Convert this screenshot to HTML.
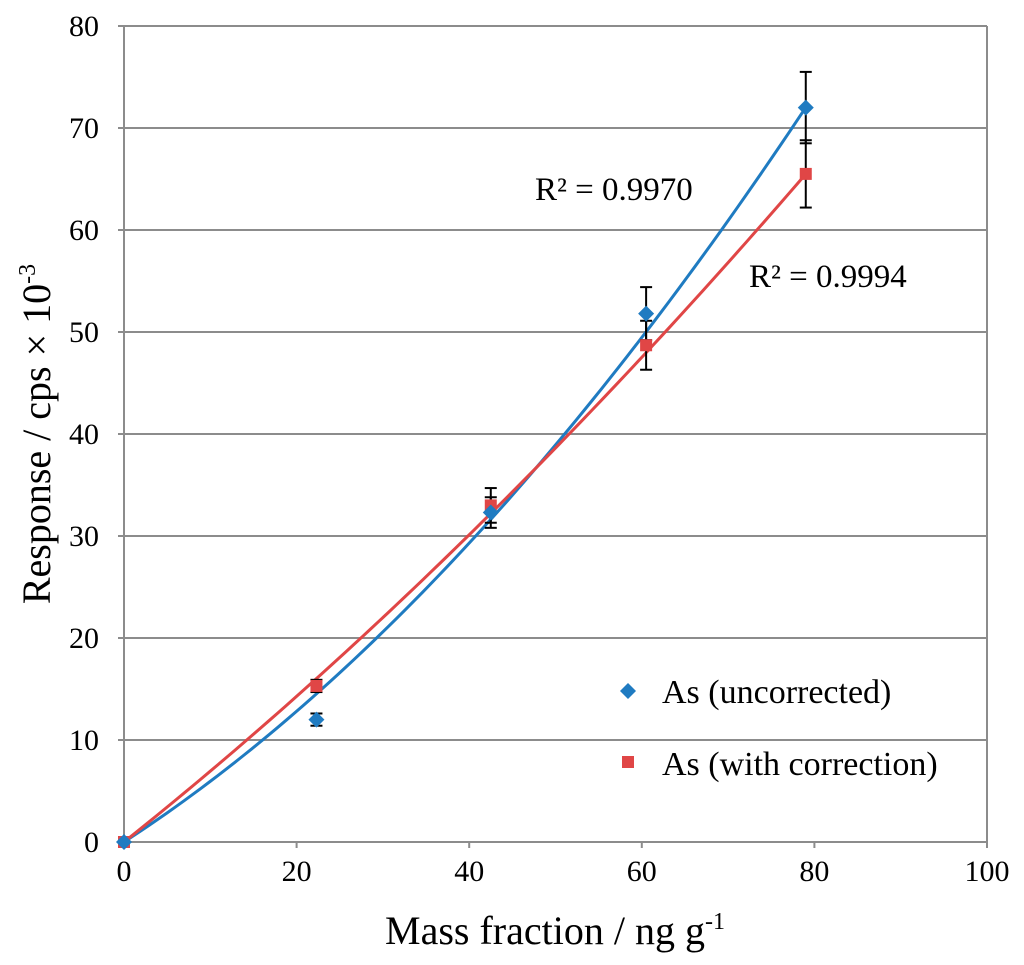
<!DOCTYPE html>
<html><head><meta charset="utf-8"><style>
body{margin:0;background:#fff;}
svg{display:block;font-family:"Liberation Serif",serif;}
</style></head><body>
<svg id="chart" width="1024" height="965"></svg>
<script>
const xTicks=[0,20,40,60,80,100];
const yTicks=[0,10,20,30,40,50,60,70,80];
const massX=[0,22.3,42.5,60.5,79];
const uncorrY=[0,12,32.3,51.8,72];
const uncorrErr=[0,0.6,1.5,2.6,3.5];
const corrY=[0,15.3,33,48.7,65.5];
const corrErr=[0,0.6,1.7,2.4,3.3];
const fitBlue=[0,0.549,0.00459];
const fitRed=[0,0.675,0.00195];
const svg=document.getElementById('chart');
const NS='http://www.w3.org/2000/svg';
const X=v=>124+v*(987-124)/100;
const Y=v=>842-v*(842-26)/80;
function mk(t,a,p){const e=document.createElementNS(NS,t);for(const k in a)e.setAttribute(k,a[k]);(p||svg).appendChild(e);return e;}
yTicks.forEach(t=>{
 const l=mk('line',{x1:X(0),x2:X(100),y1:Y(t),y2:Y(t),stroke:'#8c8c8c','stroke-width':2});
 
 
 const tx=mk('text',{x:99,y:Y(t)+10,'text-anchor':'end','font-size':30});tx.textContent=t;
 
 
 mk('line',{x1:X(0)-6,x2:X(0),y1:Y(t),y2:Y(t),stroke:'#8c8c8c','stroke-width':2});
});
mk('line',{x1:X(100),x2:X(100),y1:Y(0),y2:Y(80),stroke:'#8c8c8c','stroke-width':2});
mk('line',{x1:X(0),x2:X(0),y1:Y(0),y2:Y(80),stroke:'#8c8c8c','stroke-width':2});
xTicks.forEach(t=>{
 mk('line',{x1:X(t),x2:X(t),y1:Y(0),y2:Y(0)+6,stroke:'#8c8c8c','stroke-width':2});
 const tx=mk('text',{x:X(t),y:881,'text-anchor':'middle','font-size':30});tx.textContent=t;
 
 
});
function curve(c,col,name){let d='';for(let i=0;i<=80;i++){const x=i*79/80;const y=c[0]+c[1]*x+c[2]*x*x;d+=(i?'L':'M')+X(x)+','+Y(y);}
 const p=mk('path',{d:d,fill:'none',stroke:col,'stroke-width':3});
 
 }
curve(fitBlue,'#1f7bc1','trendline-uncorrected');
curve(fitRed,'#e04646','trendline-corrected');
function errs(ys,es,name){ys.forEach((y,i)=>{if(!es[i])return;const x=X(massX[i]);
 const g=mk('g',{stroke:'#000','stroke-width':2});
 
 
 mk('line',{x1:x,x2:x,y1:Y(y-es[i]),y2:Y(y+es[i])},g);
 mk('line',{x1:x-6,x2:x+6,y1:Y(y-es[i]),y2:Y(y-es[i])},g);
 mk('line',{x1:x-6,x2:x+6,y1:Y(y+es[i]),y2:Y(y+es[i])},g);});}
errs(uncorrY,uncorrErr,'error-bar-uncorrected');
errs(corrY,corrErr,'error-bar-corrected');
corrY.forEach((y,i)=>{const s=mk('rect',{x:X(massX[i])-6,y:Y(y)-6,width:12,height:12,fill:'#e04646'});
 
 });
uncorrY.forEach((y,i)=>{const x=X(massX[i]),yy=Y(y);const s=mk('polygon',{points:`${x},${yy-8} ${x+8},${yy} ${x},${yy+8} ${x-8},${yy}`,fill:'#1f7bc1'});
 
 });
</script>
<svg style="position:absolute;left:0;top:0" width="1024" height="965" font-family="Liberation Serif, serif">
<text x="535" y="200" font-size="33">R² = 0.9970</text>
<text x="749" y="287" font-size="33">R² = 0.9994</text>
<g>
<polygon points="628,683 636,691 628,699 620,691" fill="#1f7bc1"/>
<text x="662" y="703" font-size="34">As (uncorrected)</text>
<rect x="622" y="756" width="12" height="12" fill="#e04646"/>
<text x="662" y="775" font-size="34">As (with correction)</text>
</g>
<text x="555" y="944" font-size="40" text-anchor="middle">Mass fraction / ng g<tspan font-size="24" dy="-15">-1</tspan></text>
<text transform="translate(50,434) rotate(-90)" font-size="40" text-anchor="middle">Response / cps × 10<tspan font-size="24" dy="-15">-3</tspan></text>
</svg>
</body></html>
